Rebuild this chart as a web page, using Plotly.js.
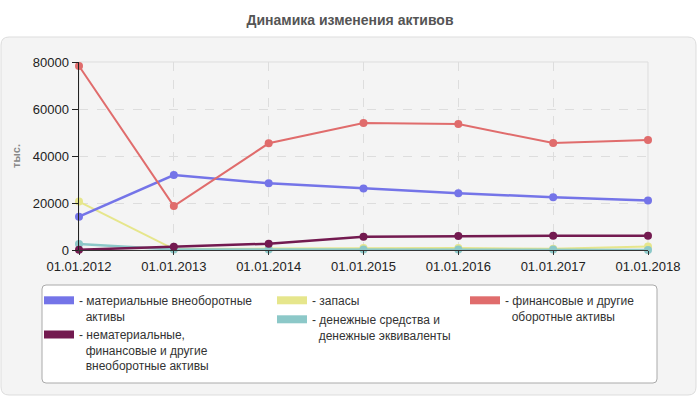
<!DOCTYPE html>
<html>
<head>
<meta charset="utf-8">
<script src="https://cdn.plot.ly/plotly-3.0.1.min.js"></script>
<style>html,body{margin:0;padding:0;background:#fff;}#chart{width:700px;height:400px;}</style>
</head>
<body>
<div id="chart"></div>
<script>
const dates = ['01.01.2012','01.01.2013','01.01.2014','01.01.2015','01.01.2016','01.01.2017','01.01.2018'];
const tangible = [14200, 31900, 28400, 26200, 24100, 22500, 21100];
const intangible = [100, 1400, 2700, 5600, 6000, 6100, 6100];
const inventory = [20600, 400, 600, 800, 800, 500, 1500];
const cash = [2600, 200, 200, 200, 200, 200, 50];
const finOther = [78300, 18700, 45400, 54000, 53600, 45500, 46800];
const yTicks = [0, 20000, 40000, 60000, 80000];

const names = {
  tangible: '- материальные внеоборотные<br>&nbsp;&nbsp;активы',
  intangible: '- нематериальные,<br>&nbsp;&nbsp;финансовые и другие<br>&nbsp;&nbsp;внеоборотные активы',
  inventory: '- запасы',
  cash: '- денежные средства и<br>&nbsp;&nbsp;денежные эквиваленты',
  finOther: '- финансовые и другие<br>&nbsp;&nbsp;оборотные активы'
};
const colors = {
  tangible: '#7474e8', intangible: '#731a50', inventory: '#e6e68c', cash: '#8cc8c8', finOther: '#e06c6c'
};

// plot area in pixels
const L = 79, R = 648, T = 62, B = 250, W = 700, H = 400;
const px = x => (x - L) / (R - L);
const py = y => (B - y) / (B - T);
function roundRect(x0, y0, x1, y1, r) {
  const X = px, Y = py;
  return 'M' + X(x0 + r) + ',' + Y(y0) +
    ' L' + X(x1 - r) + ',' + Y(y0) + ' Q' + X(x1) + ',' + Y(y0) + ' ' + X(x1) + ',' + Y(y0 + r) +
    ' L' + X(x1) + ',' + Y(y1 - r) + ' Q' + X(x1) + ',' + Y(y1) + ' ' + X(x1 - r) + ',' + Y(y1) +
    ' L' + X(x0 + r) + ',' + Y(y1) + ' Q' + X(x0) + ',' + Y(y1) + ' ' + X(x0) + ',' + Y(y1 - r) +
    ' L' + X(x0) + ',' + Y(y0 + r) + ' Q' + X(x0) + ',' + Y(y0) + ' ' + X(x0 + r) + ',' + Y(y0) + ' Z';
}

function series(key, vals, w) {
  return {x: dates, y: vals, type: 'scatter', mode: 'lines+markers', showlegend: false, cliponaxis: false,
    line: {color: colors[key], width: w}, marker: {color: colors[key], size: 8}, hoverinfo: 'x+y'};
}
function legendItem(key, leg) {
  return {x: [null], y: [null], type: 'scatter', mode: 'lines', name: names[key], legend: leg,
    line: {color: colors[key], width: 8}, hoverinfo: 'skip'};
}

const data = [
  series('inventory', inventory, 2),
  series('cash', cash, 2.5),
  series('intangible', intangible, 2.5),
  series('tangible', tangible, 2.5),
  series('finOther', finOther, 2),
  legendItem('tangible', 'legend'),
  legendItem('intangible', 'legend'),
  legendItem('inventory', 'legend2'),
  legendItem('cash', 'legend2'),
  legendItem('finOther', 'legend3')
];

const legFont = {family: 'Liberation Sans, Arial, sans-serif', size: 12, color: '#333'};
const legBase = {orientation: 'v', bgcolor: 'rgba(0,0,0,0)', borderwidth: 0, font: legFont, valign: 'top',
  itemwidth: 30, itemclick: false, itemdoubleclick: false, xanchor: 'left', yanchor: 'top', traceorder: 'normal'};

const layout = {
  width: W, height: H,
  margin: {l: L, r: W - R, t: T, b: H - B},
  paper_bgcolor: '#ffffff',
  plot_bgcolor: '#fcfcf6',
  font: {family: 'Liberation Sans, Arial, sans-serif', size: 13, color: '#222'},
  title: {text: 'Динамика изменения активов', x: 0.5, xref: 'container', xanchor: 'center',
    y: 1 - 20 / H, yref: 'container', yanchor: 'middle',
    font: {family: 'Liberation Sans, Arial, sans-serif', size: 14, color: '#555', weight: 'bold'}},
  xaxis: {type: 'category', range: [0, dates.length - 1], showgrid: true, gridcolor: '#dddddd', griddash: 'dash',
    showline: true, linecolor: '#333', linewidth: 1, ticks: 'outside', ticklen: 4, tickcolor: '#333',
    tickfont: {size: 13, color: '#222'}, zeroline: false, fixedrange: true},
  yaxis: {range: [0, 80000], tickvals: yTicks, ticktext: yTicks.map(String), showgrid: true, gridcolor: '#dddddd',
    griddash: 'dash', showline: true, linecolor: '#222', linewidth: 1.5, ticks: 'outside', ticklen: 6,
    tickcolor: '#222', tickfont: {size: 13, color: '#222'}, zeroline: false, fixedrange: true,
    title: {text: 'тыс.', standoff: 10, font: {size: 11, color: '#888', weight: 'bold'}}},
  legend: Object.assign({}, legBase, {x: px(39), y: py(286)}),
  legend2: Object.assign({}, legBase, {x: px(272), y: py(286)}),
  legend3: Object.assign({}, legBase, {x: px(465), y: py(286)}),
  shapes: [
    {type: 'path', xref: 'paper', yref: 'paper', layer: 'below', path: roundRect(1, 37, 696, 395, 8),
      fillcolor: '#f4f4f4', line: {color: '#dddddd', width: 1}},
    {type: 'path', xref: 'paper', yref: 'paper', layer: 'below', path: roundRect(42, 285, 657, 383, 4),
      fillcolor: '#ffffff', line: {color: '#aaaaaa', width: 1}},
    {type: 'rect', xref: 'paper', yref: 'paper', layer: 'below', x0: 0, x1: 1, y0: 0, y1: 1,
      fillcolor: 'rgba(0,0,0,0)', line: {color: '#dddddd', width: 1}}
  ]
};

Plotly.newPlot('chart', data, layout, {displayModeBar: false, staticPlot: true});
</script>
</body>
</html>
